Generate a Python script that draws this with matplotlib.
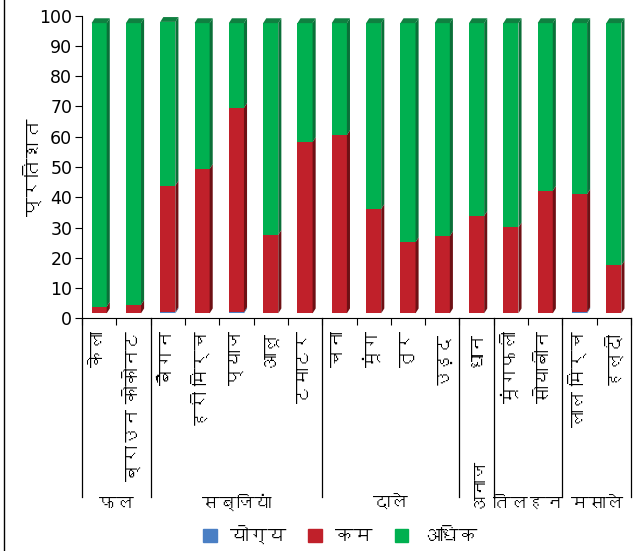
import matplotlib
matplotlib.use("Agg")
import matplotlib.pyplot as plt
from matplotlib import font_manager
from matplotlib.ft2font import FT2Font
from matplotlib.patches import Polygon, Patch
from matplotlib.lines import Line2D
import numpy as np

# ---------- font with Devanagari, if any ----------
deva_family = None
for f in font_manager.fontManager.ttflist:
    try:
        if ord('क') in FT2Font(f.fname).get_charmap():
            deva_family = f.name
            break
    except Exception:
        pass
families = ['DejaVu Sans'] + ([deva_family] if deva_family else [])
plt.rcParams['font.family'] = families

# ---------- data ----------
categories = ['केला', 'ब्राउन कोकोनट', 'बैंगन', 'हरी मिर्च', 'प्याज', 'आलू', 'टमाटर',
              'चना', 'मूंग', 'तुर', 'उड़द', 'धान', 'मूंगफली', 'सोयाबीन', 'लाल मिर्च', 'हल्दी']
groups = ['फल', 'सब्जियां', 'दाले', 'अनाज', 'तिलहन', 'मसाले']
group_sizes = [2, 5, 4, 1, 2, 2]
series_names = ['योग्य', 'कम', 'अधिक']
yogya = [0.0, 0.0, 0.4, 0.0, 0.4, 0.0, 0.0, 0.0, 0.0, 0.0, 0.0, 0.0, 0.0, 0.0, 0.4, 0.0]
kam = [2.2, 2.8, 41.8, 47.7, 67.5, 25.9, 56.6, 58.9, 34.5, 23.5, 25.5, 32.2, 28.4, 40.5, 39.0, 15.8]
adhik = [93.7, 93.1, 54.1, 48.2, 28.0, 70.0, 39.3, 37.0, 61.4, 72.4, 70.4, 63.7, 67.5, 55.4, 56.5, 80.1]
yticks = list(range(0, 101, 10))

# ---------- styles ----------
front_cols = ['#4a7fc4', '#c0202a', '#00b050']
side_cols = ['#2d5a96', '#6e1014', '#0a7038']
top_cols = ['#3a6cb0', '#8e1a1e', '#0f8040']
base = 1.65          # 3D floor offset
bw = 0.44            # bar front width (data units)
dx = 0.09            # depth in x
dy = 1.6             # depth in y

fig = plt.figure(figsize=(6.36, 5.51), dpi=100)
ax = fig.add_axes([82/636, 1-318.3/551, (631-82)/636, (318.3-15.7)/551])

x = np.arange(len(categories))
series = [np.array(yogya), np.array(kam), np.array(adhik)]
bottom = np.full(len(categories), base)
for s, vals in enumerate(series):
    ax.bar(x, vals, bw, bottom=bottom, color=front_cols[s], linewidth=0, zorder=2)
    for i in range(len(x)):
        if vals[i] <= 0:
            continue
        r = x[i] + bw/2
        b, t = bottom[i], bottom[i] + vals[i]
        ax.add_patch(Polygon([(r, b), (r, t), (r+dx, t+dy), (r+dx, b+dy)],
                             closed=True, color=side_cols[s], lw=0, zorder=2))
    bottom = bottom + vals
# top faces
for i in range(len(x)):
    l, r = x[i] - bw/2, x[i] + bw/2
    t = bottom[i]
    ax.add_patch(Polygon([(l, t), (r, t), (r+dx, t+dy), (l+dx, t+dy)],
                         closed=True, color=top_cols[2], lw=0, zorder=2))

ax.set_xlim(-0.5, len(categories) - 0.5)
ax.set_ylim(0, 100)
ax.set_yticks(yticks)
ax.tick_params(axis='y', labelsize=12.5, length=5, width=0.8, direction='out', pad=2)
for sp in ['top', 'right']:
    ax.spines[sp].set_visible(False)
ax.spines['left'].set_linewidth(0.8)
ax.spines['bottom'].set_linewidth(0.8)

ax.set_xticks(x, categories, rotation=90, fontsize=13, va='top')
ax.tick_params(axis='x', length=0, pad=9)
ax.set_xticks(np.arange(-0.5, len(categories), 1.0), minor=True)
ax.tick_params(axis='x', which='minor', length=5, width=0.8, direction='out')

ax.set_ylabel('प्रतिशत', fontsize=14, labelpad=-3)

# group separators and labels
trans = ax.get_xaxis_transform()
bounds = np.concatenate([[0], np.cumsum(group_sizes)]) - 0.5
sep_bottom = (318.3 - 497) / 302.6
for bpos in bounds:
    ax.add_line(Line2D([bpos, bpos], [0, sep_bottom], transform=trans,
                       color='black', lw=0.9, clip_on=False))
lab_y = (318.3 - 504) / 302.6
for g, name in enumerate(groups):
    cx = (bounds[g] + bounds[g+1]) / 2
    if group_sizes[g] == 1:
        ax.text(cx, (318.3 - 482) / 302.6, name, transform=trans, rotation=90,
                ha='center', va='center', fontsize=12.5)
    else:
        ax.text(cx, lab_y, name, transform=trans, ha='center', va='center', fontsize=12.5)

# legend
handles = [Patch(color=front_cols[s], label=series_names[s]) for s in range(3)]
fig.legend(handles=handles, loc='center', bbox_to_anchor=(0.535, 0.027), ncol=3,
           frameon=False, fontsize=13.5, handlelength=0.7, handleheight=0.7,
           columnspacing=1.2, handletextpad=0.7)

# left frame line
fig.add_artist(Line2D([4/636, 4/636], [0, 1], transform=fig.transFigure, color='black', lw=1))

fig.savefig('out.png', dpi=100)
